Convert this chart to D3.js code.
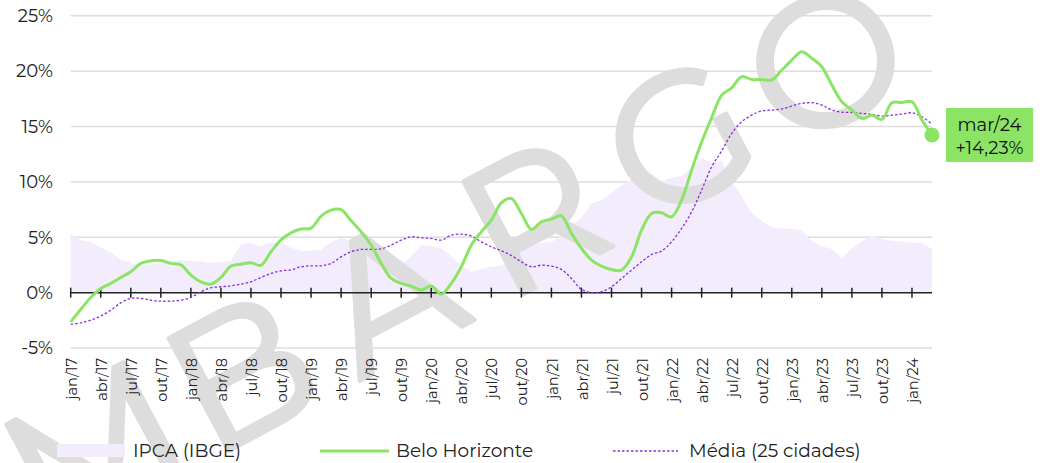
<!DOCTYPE html>
<html>
<head>
<meta charset="utf-8">
<script src="https://cdn.jsdelivr.net/npm/d3@7"></script>
<style>
  body { margin: 0; background: #fff; }
  svg { display: block; font-family: Montserrat, 'Noto Sans', sans-serif; }
</style>
</head>
<body>
<svg id="chart"></svg>
<script>
// months jan/17 .. mar/24
const meses = ['jan','fev','mar','abr','mai','jun','jul','ago','set','out','nov','dez'];
const labels = d3.range(87).map(i => `${meses[i % 12]}/${17 + Math.floor(i / 12)}`);

// IPCA (IBGE) 12m
const ipca = [5.35, 4.76, 4.57, 4.08, 3.60, 3.00, 2.71, 2.46, 2.54, 2.70, 2.80, 2.95,
  2.86, 2.84, 2.68, 2.76, 2.86, 4.39, 4.48, 4.19, 4.53, 4.56, 4.05, 3.75,
  3.78, 3.89, 4.58, 4.94, 4.66, 3.37, 3.22, 3.43, 2.89, 2.54, 3.27, 4.31,
  4.19, 4.01, 3.30, 2.40, 1.88, 2.13, 2.31, 2.44, 3.14, 3.92, 4.31, 4.52,
  4.56, 5.20, 6.10, 6.76, 8.06, 8.35, 8.99, 9.68, 10.25, 10.67, 10.74, 10.06,
  10.38, 10.54, 11.30, 12.13, 11.73, 11.89, 10.07, 8.73, 7.17, 6.47, 5.90, 5.79,
  5.77, 5.60, 4.65, 4.18, 3.94, 3.16, 3.99, 4.61, 5.19, 4.82, 4.68, 4.62,
  4.51, 4.50, 3.93];

// Belo Horizonte
const bh = [-2.64, -1.52, -0.44, 0.38, 0.83, 1.37, 1.88, 2.64, 2.87, 2.9, 2.64, 2.51,
  1.58, 0.98, 0.77, 1.37, 2.39, 2.57, 2.69, 2.46, 3.69, 4.77, 5.4, 5.74,
  5.83, 6.91, 7.45, 7.5, 6.49, 5.49, 4.29, 2.64, 1.28, 0.83, 0.59, 0.23,
  0.59, -0.14, 0.83, 2.33, 4.29, 5.49, 6.55, 8.1, 8.5, 7.15, 5.71, 6.4,
  6.64, 6.94, 5.35, 3.99, 2.94, 2.39, 2.09, 2.03, 3.23, 5.65, 7.15, 7.21,
  6.85, 8.36, 11.07, 13.6, 15.8, 17.84, 18.5, 19.5, 19.25, 19.25, 19.2, 20.1,
  21.0, 21.75, 21.16, 20.4, 18.74, 17.24, 16.49, 15.73, 16.03, 15.64, 17.15, 17.18,
  17.24, 15.58, 14.23];

// Média (25 cidades)
const media = [-2.87, -2.73, -2.48, -2.12, -1.58, -0.92, -0.52, -0.52, -0.68, -0.77, -0.77, -0.68,
  -0.44, 0.08, 0.44, 0.53, 0.62, 0.77, 0.98, 1.37, 1.73, 1.97, 2.06, 2.33,
  2.42, 2.42, 2.64, 3.23, 3.69, 3.9, 3.9, 3.96, 4.29, 4.74, 5.04, 4.95,
  4.9, 4.74, 5.19, 5.28, 5.1, 4.59, 4.14, 3.78, 3.35, 2.78, 2.33, 2.48,
  2.39, 2.09, 1.28, 0.29, 0.0, 0.08, 0.53, 1.28, 2.03, 2.78, 3.45, 3.75,
  4.59, 5.8, 7.3, 9.26, 11.36, 12.8, 14.38, 15.43, 16.03, 16.4, 16.49, 16.58,
  16.85, 17.09, 17.15, 16.94, 16.49, 16.3, 16.28, 16.19, 16.1, 15.94, 16.03, 16.12,
  16.24, 15.88, 15.22];

const yTicks = [-5, 0, 5, 10, 15, 20, 25];
const legendItems = ['IPCA (IBGE)', 'Belo Horizonte', 'Média (25 cidades)'];
const watermark = ['M', 'B', 'A', 'R', 'G', 'O'];

const width = 1043, height = 463;
const green = '#8ce465', lavender = '#f2ecfd', purple = '#8a2be2';

const svg = d3.select('#chart').attr('width', width).attr('height', height);

const x = d3.scaleLinear().domain([0, labels.length - 1]).range([70.7, 932]);
const y = d3.scaleLinear().domain([-5, 25]).range([348, 15.8]);

//gridlines
svg.append('g').selectAll('line')
  .data(yTicks.filter(d => d !== 0))
  .enter().append('line')
    .attr('x1', x(0)).attr('x2', x(labels.length - 1))
    .attr('y1', d => y(d)).attr('y2', d => y(d))
    .attr('stroke', '#dddddd').attr('stroke-width', 1.5);

//y labels
svg.append('g').selectAll('text')
  .data(yTicks)
  .enter().append('text')
    .attr('x', 53).attr('y', d => y(d))
    .attr('dy', '0.35em')
    .attr('text-anchor', 'end')
    .style('font-size', '18px')
    .attr('fill', '#222')
    .text(d => `${d}%`);

//ipca area
const area = d3.area()
  .x((d, i) => x(i))
  .y0(y(0))
  .y1(d => y(d));

svg.append('path')
  .datum(ipca)
  .attr('d', area)
  .attr('fill', lavender);

//watermark
const wm = svg.append('g')
  .attr('transform', 'translate(94,448) rotate(-28)');
wm.selectAll('text')
  .data(watermark)
  .enter().append('text')
    .attr('x', (d, i) => i * 165.5)
    .attr('y', 0)
    .attr('dy', '0.36em')
    .attr('text-anchor', 'middle')
    .style('font-size', '182px')
    .attr('fill', '#dddddd')
    .attr('stroke', '#dddddd')
    .attr('stroke-width', 4.5)
    .attr('stroke-linejoin', 'round')
    .text(d => d);

//zero axis + ticks
const tickIdx = d3.range(0, labels.length, 3);
svg.append('line')
  .attr('x1', x(0)).attr('x2', x(labels.length - 1))
  .attr('y1', y(0)).attr('y2', y(0))
  .attr('stroke', '#222').attr('stroke-width', 1.5);
svg.append('g').selectAll('line')
  .data(tickIdx)
  .enter().append('line')
    .attr('x1', d => x(d)).attr('x2', d => x(d))
    .attr('y1', y(0) - 5).attr('y2', y(0) + 5)
    .attr('stroke', '#222').attr('stroke-width', 1.5);

//x labels
svg.append('g').selectAll('text')
  .data(tickIdx)
  .enter().append('text')
    .attr('transform', d => `translate(${x(d) + 1},358) rotate(-90)`)
    .attr('dy', '0.35em')
    .attr('text-anchor', 'end')
    .style('font-size', '14.5px')
    .attr('fill', '#222')
    .text(d => labels[d]);

//lines
const line = d3.line()
  .x((d, i) => x(i))
  .y(d => y(d))
  .curve(d3.curveCatmullRom.alpha(0.5));

svg.append('path')
  .datum(media)
  .attr('d', line)
  .attr('fill', 'none')
  .attr('stroke', purple)
  .attr('stroke-width', 1.3)
  .attr('stroke-dasharray', '2.5,2');

svg.append('path')
  .datum(bh)
  .attr('d', line)
  .attr('fill', 'none')
  .attr('stroke', green)
  .attr('stroke-width', 3);

//last point + label
const last = bh.length - 1;
svg.append('circle')
  .attr('cx', x(last)).attr('cy', y(bh[last]))
  .attr('r', 7.5)
  .attr('fill', green);

const fmt = d3.format('.2f');
svg.append('rect')
  .attr('x', 946).attr('y', 108)
  .attr('width', 87).attr('height', 54)
  .attr('fill', green);
svg.append('text')
  .attr('x', 989.5).attr('y', 131)
  .attr('text-anchor', 'middle')
  .style('font-size', '18px')
  .attr('fill', '#111')
  .text(labels[last]);
svg.append('text')
  .attr('x', 989.5).attr('y', 154)
  .attr('text-anchor', 'middle')
  .style('font-size', '18px')
  .attr('fill', '#111')
  .text(`+${fmt(bh[last]).replace('.', ',')}%`);

//legend
const legend = svg.append('g');
legend.append('rect')
  .attr('x', 57).attr('y', 444).attr('width', 68).attr('height', 13)
  .attr('fill', lavender);
legend.append('line')
  .attr('x1', 320).attr('x2', 389).attr('y1', 451).attr('y2', 451)
  .attr('stroke', green).attr('stroke-width', 3);
legend.append('line')
  .attr('x1', 613).attr('x2', 678).attr('y1', 451).attr('y2', 451)
  .attr('stroke', purple).attr('stroke-width', 1.3).attr('stroke-dasharray', '2.5,2');
legend.selectAll('text')
  .data(legendItems)
  .enter().append('text')
    .attr('x', (d, i) => [133, 396, 689][i])
    .attr('y', 451)
    .attr('dy', '0.35em')
    .style('font-size', '18.5px')
    .attr('fill', '#222')
    .text(d => d);
</script>
</body>
</html>
